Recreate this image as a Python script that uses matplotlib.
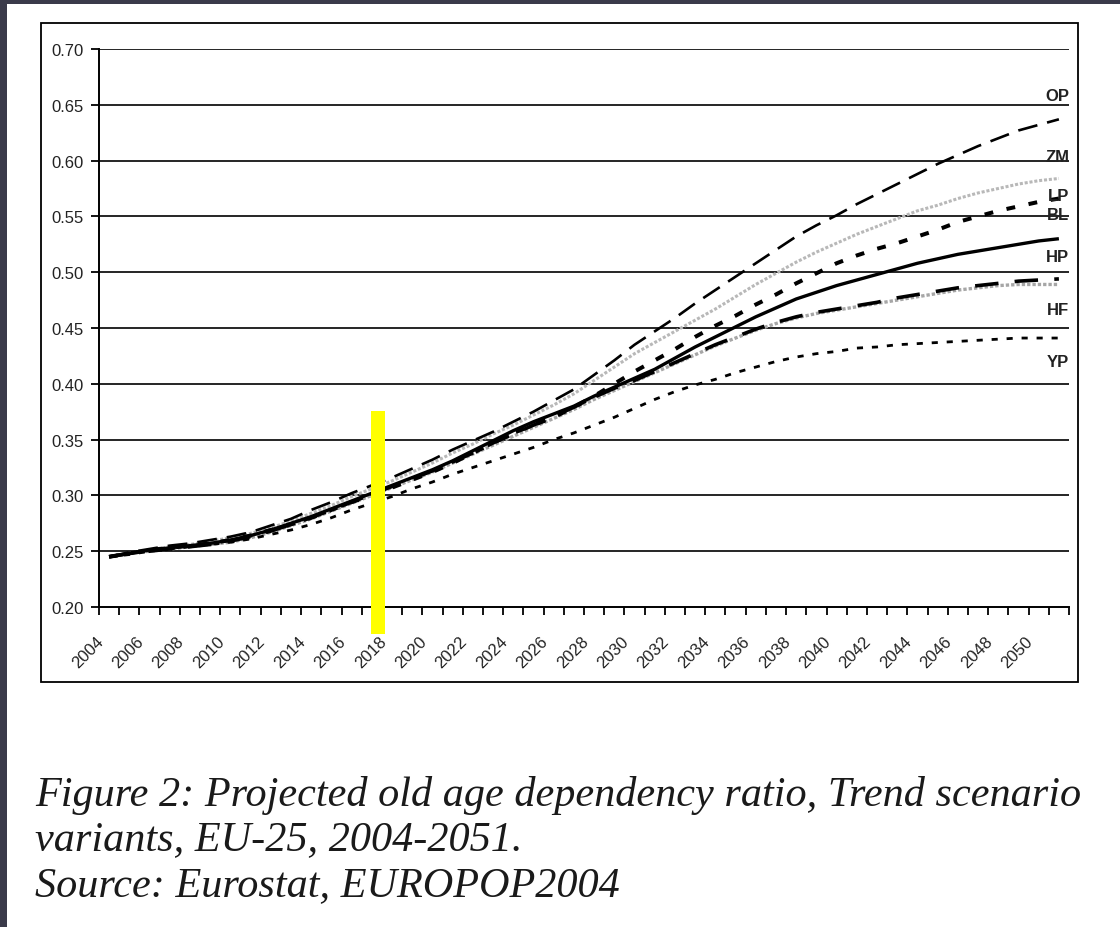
import matplotlib
matplotlib.use("Agg")
import matplotlib.pyplot as plt
import matplotlib.transforms as mtransforms
from matplotlib.patches import Rectangle

# Old age dependency ratio, EU-25, trend scenario variants
years = list(range(2004, 2052))

op = [0.245, 0.249, 0.252, 0.255, 0.257, 0.260, 0.263, 0.267, 0.273, 0.279,
      0.287, 0.294, 0.302, 0.309, 0.316, 0.324, 0.332, 0.341, 0.349, 0.357,
      0.366, 0.375, 0.385, 0.395, 0.408, 0.421, 0.435, 0.447, 0.459, 0.472,
      0.484, 0.496, 0.508, 0.520, 0.532, 0.542, 0.551, 0.561, 0.570, 0.579,
      0.588, 0.597, 0.605, 0.613, 0.620, 0.627, 0.632, 0.637]

zm = [0.245, 0.248, 0.251, 0.254, 0.256, 0.259, 0.262, 0.266, 0.271, 0.277,
      0.284, 0.291, 0.299, 0.306, 0.313, 0.321, 0.329, 0.338, 0.346, 0.355,
      0.363, 0.372, 0.381, 0.391, 0.403, 0.415, 0.427, 0.437, 0.447, 0.457,
      0.467, 0.478, 0.489, 0.499, 0.509, 0.518, 0.526, 0.534, 0.541, 0.548,
      0.555, 0.560, 0.566, 0.571, 0.575, 0.579, 0.582, 0.584]

lp = [0.245, 0.248, 0.251, 0.253, 0.255, 0.257, 0.260, 0.264, 0.269, 0.274,
      0.280, 0.287, 0.294, 0.300, 0.307, 0.314, 0.321, 0.329, 0.338, 0.347,
      0.356, 0.363, 0.370, 0.379, 0.389, 0.400, 0.411, 0.421, 0.431, 0.442,
      0.452, 0.461, 0.471, 0.480, 0.490, 0.499, 0.508, 0.515, 0.521, 0.526,
      0.532, 0.538, 0.545, 0.550, 0.555, 0.559, 0.563, 0.566]

bl = [0.245, 0.248, 0.251, 0.253, 0.255, 0.257, 0.260, 0.264, 0.269, 0.275,
      0.281, 0.288, 0.295, 0.302, 0.309, 0.316, 0.323, 0.331, 0.340, 0.349,
      0.358, 0.366, 0.373, 0.380, 0.389, 0.397, 0.405, 0.413, 0.423, 0.433,
      0.442, 0.451, 0.460, 0.468, 0.476, 0.482, 0.488, 0.493, 0.498, 0.503,
      0.508, 0.512, 0.516, 0.519, 0.522, 0.525, 0.528, 0.530]

hp = [0.245, 0.248, 0.250, 0.252, 0.254, 0.256, 0.259, 0.263, 0.268, 0.274,
      0.280, 0.287, 0.294, 0.301, 0.308, 0.315, 0.322, 0.330, 0.338, 0.347,
      0.355, 0.363, 0.371, 0.379, 0.388, 0.396, 0.403, 0.411, 0.419, 0.427,
      0.435, 0.442, 0.449, 0.455, 0.460, 0.464, 0.467, 0.470, 0.473, 0.477,
      0.480, 0.483, 0.486, 0.488, 0.490, 0.492, 0.493, 0.494]

hf = [0.245, 0.248, 0.250, 0.252, 0.254, 0.256, 0.258, 0.262, 0.267, 0.273,
      0.279, 0.286, 0.293, 0.300, 0.307, 0.314, 0.321, 0.329, 0.337, 0.345,
      0.353, 0.361, 0.369, 0.377, 0.386, 0.394, 0.402, 0.410, 0.418, 0.426,
      0.434, 0.441, 0.448, 0.454, 0.459, 0.463, 0.466, 0.469, 0.472, 0.475,
      0.478, 0.481, 0.484, 0.486, 0.488, 0.489, 0.489, 0.489]

yp = [0.245, 0.247, 0.250, 0.252, 0.254, 0.256, 0.258, 0.261, 0.265, 0.269,
      0.274, 0.280, 0.287, 0.293, 0.299, 0.306, 0.312, 0.319, 0.325, 0.331,
      0.337, 0.343, 0.350, 0.356, 0.363, 0.370, 0.378, 0.386, 0.393, 0.399,
      0.404, 0.410, 0.415, 0.420, 0.424, 0.427, 0.429, 0.432, 0.433, 0.435,
      0.436, 0.437, 0.438, 0.439, 0.440, 0.441, 0.441, 0.441]

end_labels = ["OP", "ZM", "LP", "BL", "HP", "HF", "YP"]
end_label_y = [0.658, 0.604, 0.569, 0.552, 0.514, 0.467, 0.420]

y_ticks = [0.20, 0.25, 0.30, 0.35, 0.40, 0.45, 0.50, 0.55, 0.60, 0.65, 0.70]
year_labels = list(range(2004, 2051, 2))

caption_lines = [
    "Figure 2: Projected old age dependency ratio, Trend scenario",
    "variants, EU-25, 2004-2051.",
    "Source: Eurostat, EUROPOP2004",
]

W, H = 1120, 928
fig = plt.figure(figsize=(W / 100, H / 100), dpi=100)
fig.patch.set_facecolor("white")

def fx(px):
    return px / W

def fy(py):
    return 1 - py / H

# dark page margin on the top and left edges
edge = "#3a3a4a"
fig.add_artist(Rectangle((0, fy(5)), 1, 5 / H, transform=fig.transFigure,
                         facecolor=edge, edgecolor="none", zorder=0))
fig.add_artist(Rectangle((0, 0), fx(7), 1, transform=fig.transFigure,
                         facecolor=edge, edgecolor="none", zorder=0))

# chart frame
fig.add_artist(Rectangle((fx(41), fy(683)), fx(1078 - 41), (683 - 24) / H,
                         transform=fig.transFigure, fill=False,
                         edgecolor="black", linewidth=1.3, zorder=1))

ax = fig.add_axes([fx(99), fy(608), fx(1069 - 99), (608 - 50) / H])
ax.set_facecolor("none")
ax.set_xlim(2003.5, 2051.5)
ax.set_ylim(0.20, 0.70)

for s in ["top", "right"]:
    ax.spines[s].set_visible(False)
for s in ["left", "bottom"]:
    ax.spines[s].set_linewidth(1.4)
    ax.spines[s].set_color("black")

# horizontal gridlines
for v in y_ticks[1:]:
    ax.axhline(v, color="black", linewidth=1.2, zorder=1)

chart_font = "Liberation Sans"
tick_size = 12
ax.set_yticks(y_ticks)
ax.set_yticklabels([f"{v:.2f}" for v in y_ticks], fontsize=tick_size,
                   family=chart_font, color="#222222")
ax.tick_params(axis="y", direction="out", length=6, width=1.3, pad=5)

# category boundaries carry the x tick marks, labels sit at category centres
ax.set_xticks([y - 0.5 for y in years] + [years[-1] + 0.5])
ax.set_xticklabels([])
ax.tick_params(axis="x", which="major", direction="out", length=6, width=1.3)
ax.set_xticks(year_labels, minor=True)
ax.set_xticklabels([str(y) for y in year_labels], minor=True, rotation=45,
                   ha="right", va="top", fontsize=tick_size, family=chart_font,
                   color="#222222")
ax.tick_params(axis="x", which="minor", length=0, pad=19)
shift = mtransforms.ScaledTranslation(-3 / 100, 0, fig.dpi_scale_trans)
for lab in ax.get_xticklabels(minor=True):
    lab.set_transform(lab.get_transform() + shift)

# scenario lines
ax.plot(years, hf, color="#a6a6a6", linewidth=2.4, dashes=(1.0, 0.6), zorder=3)
ax.plot(years, zm, color="#b8b8b8", linewidth=2.2, dashes=(1.0, 0.6), zorder=3)
ax.plot(years, yp, color="black", linewidth=2.0, dashes=(2.2, 3.2), zorder=4)
ax.plot(years, hp, color="black", linewidth=2.6, dashes=(6.5, 4.5), zorder=4)
ax.plot(years, bl, color="black", linewidth=2.4, solid_capstyle="butt", zorder=4)
ax.plot(years, lp, color="black", linewidth=2.9, dashes=(2.2, 3.4), zorder=4)
ax.plot(years, op, color="black", linewidth=1.9, dashes=(7.5, 3.8), zorder=4)

label_tr = mtransforms.blended_transform_factory(ax.transAxes, ax.transData)
for name, yv in zip(end_labels, end_label_y):
    ax.text(1.0, yv, name, transform=label_tr, ha="right", va="center",
            fontsize=tick_size, fontweight="bold", family=chart_font,
            color="#222222", zorder=5)

# yellow highlight bar
ax.add_patch(Rectangle((2016.98, 0.1758), 0.69, 0.1998, facecolor="#ffff00",
                       edgecolor="none", clip_on=False, zorder=10))

# caption
caption_y = [806, 850, 896]
for text, py in zip(caption_lines, caption_y):
    fig.text(fx(35), fy(py), text, ha="left", va="baseline", fontsize=30.4,
             family="Liberation Serif", style="italic", color="#1a1a1a")

fig.savefig("out.png", dpi=100, facecolor=fig.get_facecolor())
